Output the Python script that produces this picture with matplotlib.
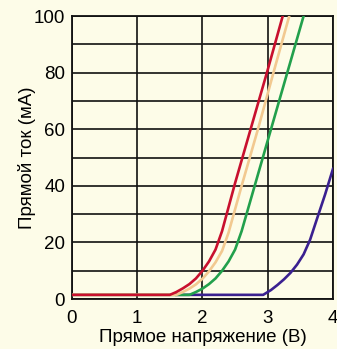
import numpy as np
import matplotlib
matplotlib.use("Agg")
import matplotlib.pyplot as plt

plt.rcParams['font.family'] = ['Liberation Sans', 'DejaVu Sans']

# voltage (V) / current (mA)
red_v = [0.0, 1.5, 1.6, 1.7, 1.8, 1.9, 2.0, 2.1, 2.2, 2.3, 2.5, 2.75, 3.0, 3.23]
red_i = [1.5, 1.5, 2.5, 3.8, 5.3, 7.3, 10.0, 13.3, 17.5, 24.0, 41.0, 61.0, 81.0, 100.0]

tan_v = [0.0, 1.6, 1.7, 1.8, 1.9, 2.0, 2.1, 2.2, 2.3, 2.4, 2.6, 2.85, 3.1, 3.33]
tan_i = [1.5, 1.5, 2.5, 3.7, 5.2, 7.2, 9.8, 13.0, 17.0, 23.5, 40.0, 60.0, 81.0, 100.0]

green_v = [0.0, 1.8, 1.9, 2.0, 2.1, 2.2, 2.3, 2.4, 2.5, 2.6, 2.8, 3.05, 3.3, 3.55]
green_i = [1.5, 1.5, 2.5, 3.7, 5.3, 7.3, 10.0, 13.3, 17.5, 24.0, 40.0, 60.0, 80.0, 100.0]

blue_v = [1.6, 2.93, 3.05, 3.15, 3.25, 3.35, 3.45, 3.55, 3.65, 3.75, 3.88, 4.0]
blue_i = [1.5, 1.5, 3.2, 5.0, 7.0, 9.3, 12.2, 15.8, 21.0, 28.0, 37.0, 46.0]

bg = '#fdfce8'
fig = plt.figure(figsize=(3.37, 3.49), dpi=100, facecolor=bg)
ax = fig.add_axes([0.2136, 0.143, 0.7744, 0.811])
ax.set_facecolor(bg)

ax.plot(blue_v, blue_i, color='#3a2090', lw=1.9, zorder=3)
ax.plot(green_v, green_i, color='#22a04c', lw=1.9, zorder=4)
ax.plot(tan_v, tan_i, color='#f2c990', lw=1.9, zorder=5)
ax.plot(red_v, red_i, color='#c8102e', lw=1.9, zorder=6)

ax.set_xlim(0, 4)
ax.set_ylim(0, 100)
ax.set_xticks([0, 1, 2, 3, 4])
ax.set_yticks([0, 20, 40, 60, 80, 100])
ax.set_yticks([10, 30, 50, 70, 90], minor=True)
ax.grid(True, which='both', color='#111111', lw=1.2, zorder=1)
ax.set_axisbelow(True)
ax.tick_params(which='both', length=0, labelsize=13.5)
ax.tick_params(axis='x', pad=8)
ax.tick_params(axis='y', pad=5)
for s in ax.spines.values():
    s.set_linewidth(1.3)
    s.set_color('#111111')

ax.set_xlabel('Прямое напряжение (В)', fontsize=13.5, va='center')
ax.set_ylabel('Прямой ток (мА)', fontsize=13.5, va='center')
ax.xaxis.set_label_coords(0.5, -0.134)
ax.yaxis.set_label_coords(-0.172, 0.5)

fig.savefig('out.png', dpi=100, facecolor=bg)
